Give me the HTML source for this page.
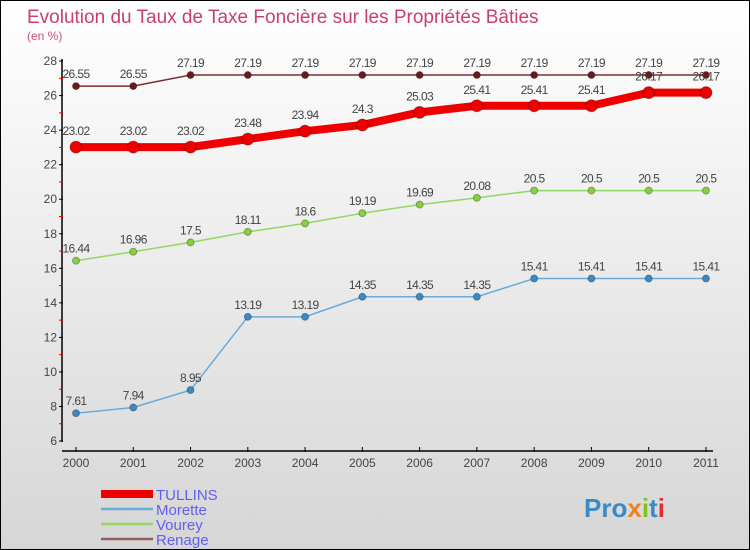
<!DOCTYPE html>
<html><head><meta charset="utf-8"><style>
body{margin:0}
#c{width:748px;height:548px;border:1px solid #000;background:linear-gradient(#fff,#d6d6d6);position:relative;font-family:"Liberation Sans",sans-serif;overflow:hidden}
</style></head><body>
<div id="c">
<svg width="748" height="548" id="s"></svg>
</div>
<script>
const years=["2000","2001","2002","2003","2004","2005","2006","2007","2008","2009","2010","2011"];
const tullins=[23.02,23.02,23.02,23.48,23.94,24.3,25.03,25.41,25.41,25.41,26.17,26.17];
const morette=[7.61,7.94,8.95,13.19,13.19,14.35,14.35,14.35,15.41,15.41,15.41,15.41];
const vourey=[16.44,16.96,17.5,18.11,18.6,19.19,19.69,20.08,20.5,20.5,20.5,20.5];
const renage=[26.55,26.55,27.19,27.19,27.19,27.19,27.19,27.19,27.19,27.19,27.19,27.19];
const yTicks=[6,8,10,12,14,16,18,20,22,24,26,28];
const labels={tullins:["23.02","23.02","23.02","23.48","23.94","24.3","25.03","25.41","25.41","25.41","26.17","26.17"],
morette:["7.61","7.94","8.95","13.19","13.19","14.35","14.35","14.35","15.41","15.41","15.41","15.41"],
vourey:["16.44","16.96","17.5","18.11","18.6","19.19","19.69","20.08","20.5","20.5","20.5","20.5"],
renage:["26.55","26.55","27.19","27.19","27.19","27.19","27.19","27.19","27.19","27.19","27.19","27.19"]};
const s=document.getElementById('s');const NS="http://www.w3.org/2000/svg";
function X(i){return 75+i*57.27}
function Y(v){return 440-(v-6)*17.27}
function el(t,a,txt){const e=document.createElementNS(NS,t);for(const k in a)e.setAttribute(k,a[k]);if(txt!==undefined)e.textContent=txt;s.appendChild(e);return e}
let t=el('text',{x:26,y:22,'font-size':19,fill:'#c8406a'},'Evolution du Taux de Taxe Foncière sur les Propriétés Bâties');

t=el('text',{x:26,y:39,'font-size':12,fill:'#c8507a'},'(en %)');

let a=el('line',{x1:61,y1:58,x2:61,y2:441,stroke:'#000','stroke-width':1.5});

a=el('line',{x1:61,y1:450,x2:712,y2:450,stroke:'#000','stroke-width':1.5});

yTicks.forEach(v=>{el('line',{x1:58,y1:Y(v),x2:62,y2:Y(v),stroke:'#000'});
if(v<28)el('line',{x1:58,y1:Y(v+1),x2:62,y2:Y(v+1),stroke:'#e00'});
const tx=el('text',{x:56,y:Y(v)+4,'font-size':12,fill:'#444','text-anchor':'end'},v);
});
years.forEach((y,i)=>{el('line',{x1:X(i),y1:446,x2:X(i),y2:451,stroke:'#000'});
const tx=el('text',{x:X(i),y:466,'font-size':12,fill:'#444','text-anchor':'middle'},y);
});
function series(name,data,lab,color,dot,w,r){
const p=el('polyline',{points:data.map((v,i)=>X(i)+','+Y(v)).join(' '),fill:'none',stroke:color,'stroke-width':w});

data.forEach((v,i)=>{const c=el('circle',{cx:X(i),cy:Y(v),r:r,fill:dot,stroke:'rgba(0,0,0,0.3)'});

const tx=el('text',{x:X(i),y:Y(v)-8-(r>5?4:0),'font-size':12,fill:'#444','text-anchor':'middle','letter-spacing':'-0.6'},lab[i]);
});}
series('renage',renage,labels.renage,'#7a3030','#6a1a1a',1.5,3.5);
series('tullins',tullins,labels.tullins,'#ee0000','#ee0000',8,6);
series('vourey',vourey,labels.vourey,'#90d860','#88d040',1.5,3.5);
series('morette',morette,labels.morette,'#6aaad8','#3a8ac8',1.5,3.5);
const leg=[['TULLINS','#ee0000',8],['Morette','#6aaad8',2.5],['Vourey','#90d860',2.5],['Renage','#906060',2.5]];
leg.forEach((l,i)=>{const y=493+i*15;
const ln=el('line',{x1:100,y1:y,x2:152,y2:y,stroke:l[1],'stroke-width':l[2]});

const tx=el('text',{x:155,y:y+6,'font-size':15,fill:'#6060ee'},l[0]);
});
const lg=el('text',{x:583,y:516,'font-size':26,'font-weight':'bold',fill:'#3a8ac8'},'');

[['Pro','#3a8ac8'],['x','#f08020'],['i','#80c020'],['t','#3a8ac8'],['i','#e03030']].forEach(p=>{const ts=document.createElementNS(NS,'tspan');ts.setAttribute('fill',p[1]);ts.textContent=p[0];lg.appendChild(ts);});
</script>
</body></html>
